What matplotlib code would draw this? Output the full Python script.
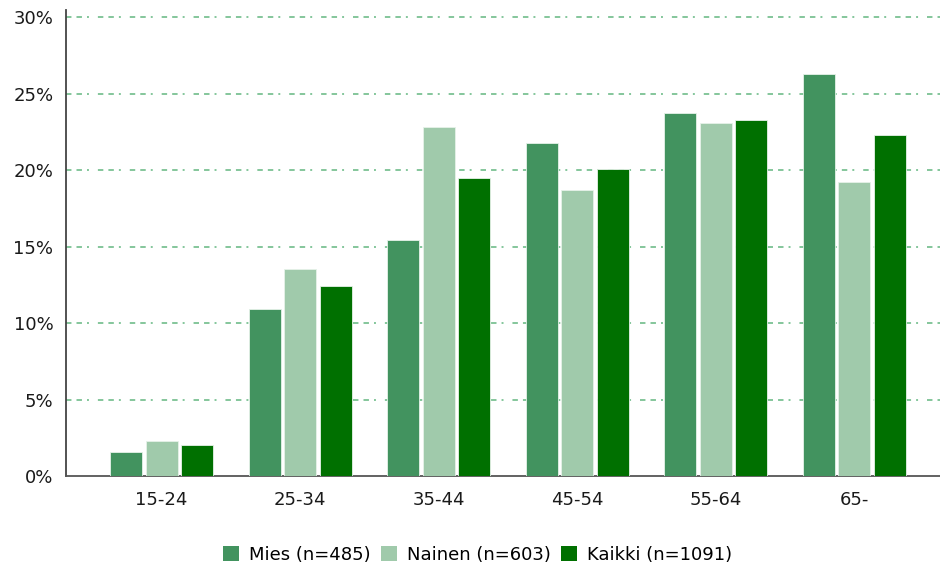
import numpy as np
import matplotlib.pyplot as plt
from matplotlib.patches import Patch

# ikäryhmät ja osuudet (%)
ages = ['15-24', '25-34', '35-44', '45-54', '55-64', '65-']
mies = [1.6, 10.9, 15.4, 21.8, 23.7, 26.3]
nainen = [2.3, 13.5, 22.8, 18.7, 23.1, 19.2]
kaikki = [2.0, 12.4, 19.5, 20.1, 23.3, 22.3]
labels = ['Mies (n=485)', 'Nainen (n=603)', 'Kaikki (n=1091)']
colors = ['#42935f', '#a0caab', '#007000']

fig = plt.figure(figsize=(9.4, 5.69), dpi=100)
ax = fig.add_axes([0.0702, 0.1634, 0.9298, 0.819])

x = np.arange(len(ages))
width = 0.231
step = 0.256
for i, (vals, c) in enumerate(zip([mies, nainen, kaikki], colors)):
    ax.bar(x + (i - 1) * step, vals, width, color=c, edgecolor='#e6f2e9',
           linewidth=0.6, zorder=3)

ax.set_xlim(-0.69, 5.62)
ax.set_ylim(0, 30.46)
ax.set_yticks(np.arange(0, 31, 5))
ax.set_yticklabels([f'{v}%' for v in range(0, 31, 5)], fontsize=13, color='#1a1a1a')
ax.set_xticks(x)
ax.set_xticklabels(ages, fontsize=13, color='#1a1a1a')
ax.tick_params(length=0)
ax.tick_params(axis='y', pad=9)
ax.tick_params(axis='x', pad=11)

# vihreät katkoviivat: viiva, viiva, piste
for v in range(5, 31, 5):
    ax.axhline(v, color='#84c69b', lw=1.4,
               linestyle=(0, (2.8, 2.6, 2.8, 2.6, 1.0, 4.6)), zorder=1)

for s in ['top', 'right']:
    ax.spines[s].set_visible(False)
ax.spines['left'].set_color('#444444')
ax.spines['bottom'].set_color('#555555')
ax.spines['left'].set_linewidth(1.3)
ax.spines['bottom'].set_linewidth(1.3)

handles = [Patch(facecolor=c, edgecolor='none') for c in colors]
fig.legend(handles, labels, loc='center', bbox_to_anchor=(0.508, 0.0246), ncol=3,
           frameon=False, fontsize=13, handlelength=0.9, handleheight=0.9,
           handletextpad=0.55, columnspacing=0.55, borderpad=0)

fig.savefig('out.png', dpi=100)
